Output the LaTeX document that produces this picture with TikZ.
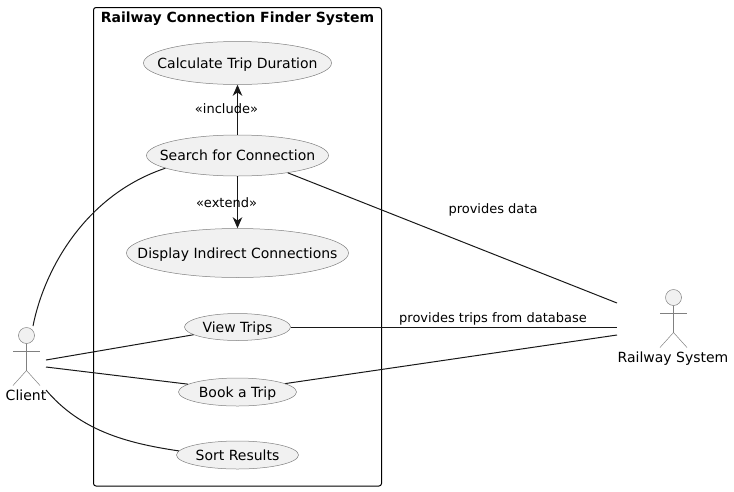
\documentclass[tikz,border=0pt]{standalone}
\usepackage{fontspec}
\setmainfont{DejaVu Sans}
\usetikzlibrary{arrows.meta}
\usetikzlibrary{shapes.geometric}

\definecolor{umlfill}{HTML}{F1F1F1}
\definecolor{umlline}{HTML}{181818}
\newcommand{\casetext}[1]{\makebox[0pt]{#1}}

\begin{document}
\begin{tikzpicture}[
    x=1pt, y=-1pt,
    case node/.style={ellipse, draw=umlline!55, fill=umlfill, line width=0.5pt, inner sep=0pt, text height=13.5pt, text depth=3pt, font=\fontsize{14}{16}\selectfont},
    head node/.style={circle, draw=umlline!55, fill=umlfill, line width=0.5pt, minimum size=16pt, inner sep=0pt},
    name node/.style={inner sep=0pt, text height=13.5pt, text depth=3pt, font=\fontsize{14}{16}\selectfont},
    note node/.style={inner sep=0pt, text height=12pt, text depth=3pt, font=\fontsize{13}{15}\selectfont},
    link/.style={draw=umlline, line width=1pt},
    dep/.style={link, -{Stealth[length=11pt, width=9.5pt, inset=3.3pt]}},
    stick/.style={draw=umlline!55, line width=0.5pt},
    ]
  \useasboundingbox (0,0) rectangle (734,491);

  \node[draw=black, line width=1pt, rounded corners=2.5pt, minimum width=288pt, minimum height=478.5pt, inner sep=0pt] (frame) at (237.5,246.75) {};
  \node[inner sep=0pt, text height=13.5pt, text depth=3pt, font=\fontsize{14}{16}\selectfont\bfseries] (title) at (237.5,17) {Railway Connection Finder System};

  \node[case node, minimum width=188pt, minimum height=43pt] (calc) at (237.5,63) {\casetext{Calculate Trip Duration}};
  \node[case node, minimum width=182pt, minimum height=41pt] (search) at (237.5,155.5) {\casetext{Search for Connection}};
  \node[case node, minimum width=222pt, minimum height=49pt] (display) at (237.5,253) {\casetext{Display Indirect Connections}};
  \node[case node, minimum width=106pt, minimum height=27pt] (view) at (237.5,327) {\casetext{View Trips}};
  \node[case node, minimum width=118pt, minimum height=28pt] (book) at (237.5,392) {\casetext{Book a Trip}};
  \node[case node, minimum width=122pt, minimum height=28pt] (sort) at (237.5,455) {\casetext{Sort Results}};

  % client
  \node[head node] (clienthead) at (26.5,335.5) {};
  \coordinate (clientneck) at (26.5,343.5);
  \coordinate (clienthip) at (26.5,370.5);
  \coordinate (clientarml) at (13,351.5);
  \coordinate (clientarmr) at (40,351.5);
  \coordinate (clientlegl) at (13,385.5);
  \coordinate (clientlegr) at (40,385.5);
  \node[name node] (client) at (26,395) {Client};
  \draw[stick] (clientneck) -- (clienthip);
  \draw[stick] (clientarml) -- (clientarmr);
  \draw[stick] (clientlegl) -- (clienthip) -- (clientlegr);

  % railway system
  \node[head node] (railhead) at (673.5,297.5) {};
  \coordinate (railneck) at (673.5,305.5);
  \coordinate (railhip) at (673.5,332.5);
  \coordinate (railarml) at (660,313.5);
  \coordinate (railarmr) at (687,313.5);
  \coordinate (raillegl) at (660,347.5);
  \coordinate (raillegr) at (687,347.5);
  \node[name node] (rail) at (673,357) {Railway System};
  \draw[stick] (railneck) -- (railhip);
  \draw[stick] (railarml) -- (railarmr);
  \draw[stick] (raillegl) -- (railhip) -- (raillegr);

  \coordinate (clienta) at (33,326);
  \coordinate (clientb) at (46,360);
  \coordinate (clientc) at (46,367);
  \coordinate (clientd) at (46,390);
  \coordinate (raila) at (617,303);
  \coordinate (railb) at (617,327);
  \coordinate (railc) at (617,335);

  \draw[link] (clienta) .. controls (44,270) and (85,195) .. (search.190);
  \draw[link] (clientb) -- (view.190);
  \draw[link] (clientc) -- (book.171);
  \draw[link] (clientd) .. controls (80,430) and (125,443) .. (sort.176);

  \draw[link] (search.-19) -- (raila);
  \draw[link] (view.east) -- (railb);
  \draw[link] (book.10) -- (railc);

  \draw[dep] (search.north) -- (calc.south);
  \draw[dep] (search.south) -- (display.north);

  \node[note node] (include) at (226.5,109) {«include»};
  \node[note node] (extend) at (226.5,202.5) {«extend»};
  \node[note node] (data) at (493,208.5) {provides data};
  \node[note node] (trips) at (493,318) {provides trips from database};
\end{tikzpicture}
\end{document}
